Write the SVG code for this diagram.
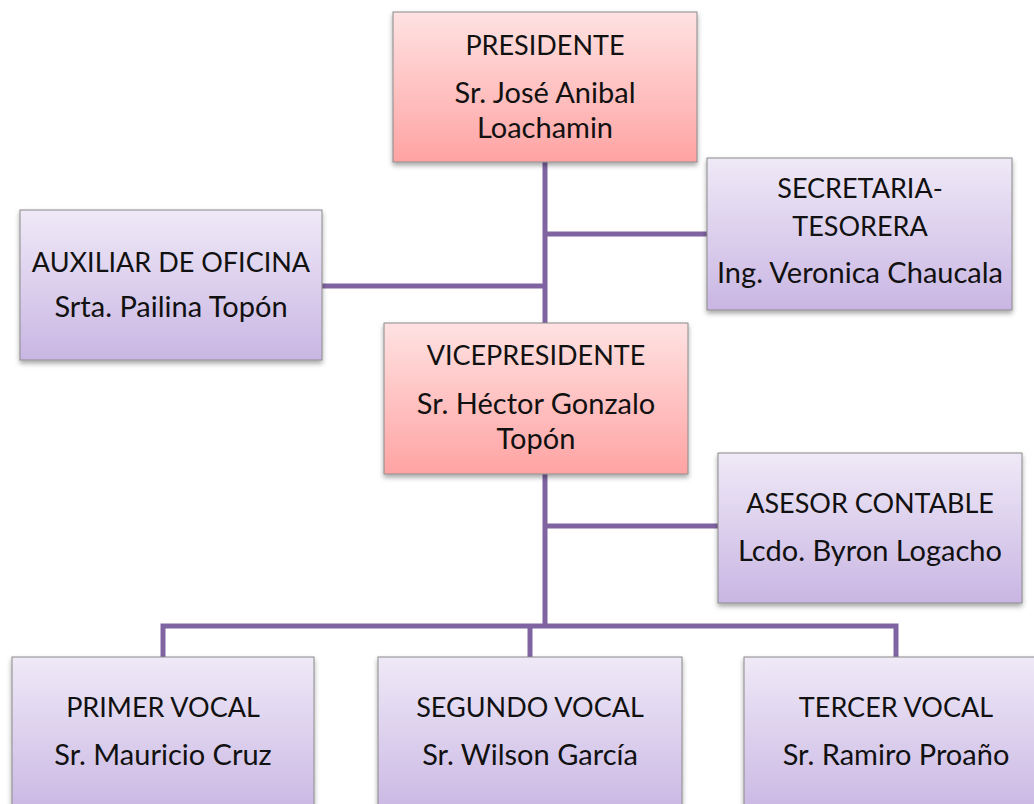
<svg xmlns="http://www.w3.org/2000/svg" width="1034" height="804" viewBox="0 0 1034 804">
<defs>
<linearGradient id="gPink" x1="0" y1="0" x2="0" y2="1">
<stop offset="0" stop-color="#FFE2E2"/>
<stop offset="1" stop-color="#FFA3A3"/>
</linearGradient>
<linearGradient id="gPurple" x1="0" y1="0" x2="0" y2="1">
<stop offset="0" stop-color="#EFE9F7"/>
<stop offset="1" stop-color="#C9B6E3"/>
</linearGradient>
<filter id="sh" x="-10%" y="-10%" width="120%" height="130%">
<feDropShadow dx="0" dy="3" stdDeviation="2.5" flood-color="#000" flood-opacity="0.35"/>
</filter>
<style>
.box{stroke:#8A8A8A;stroke-width:1;filter:url(#sh)}
.pink{fill:url(#gPink)}
.purple{fill:url(#gPurple)}
.t{font-family:Lato,"Open Sans","Liberation Sans",sans-serif;font-size:27px;fill:#111;text-anchor:middle}
.n{font-size:29px}
.c{stroke:#8064A2;stroke-width:5;fill:none;stroke-linejoin:miter}
</style>
</defs>
<rect width="1034" height="804" fill="#fff"/>
<g id="connectors">
<path class="c" d="M545 162 V323"/>
<path class="c" d="M545 234 H707"/>
<path class="c" d="M322 286 H545"/>
<path class="c" d="M545 474 V626"/>
<path class="c" d="M545 526 H718"/>
<path class="c" d="M163 657 V626 H896 V657"/>
<path class="c" d="M530 626 V657"/>
</g>
<g id="presidente">
<rect class="box pink" x="393" y="12" width="304" height="150"/>
<text class="t" x="545" y="55">PRESIDENTE</text>
<text class="t n" x="545" y="103">Sr. José Anibal</text>
<text class="t n" x="545" y="138">Loachamin</text>
</g>
<g id="auxiliar">
<rect class="box purple" x="20" y="210" width="302" height="150"/>
<text class="t" x="171" y="272">AUXILIAR DE OFICINA</text>
<text class="t n" x="171" y="317">Srta. Pailina Topón</text>
</g>
<g id="secretaria">
<rect class="box purple" x="707" y="158" width="305" height="152"/>
<text class="t" x="860" y="198">SECRETARIA-</text>
<text class="t" x="860" y="236">TESORERA</text>
<text class="t n" x="860" y="283">Ing. Veronica Chaucala</text>
</g>
<g id="vicepresidente">
<rect class="box pink" x="384" y="323" width="304" height="151"/>
<text class="t" x="536" y="365">VICEPRESIDENTE</text>
<text class="t n" x="536" y="414">Sr. Héctor Gonzalo</text>
<text class="t n" x="536" y="449">Topón</text>
</g>
<g id="asesor">
<rect class="box purple" x="718" y="453" width="304" height="150"/>
<text class="t" x="870" y="513">ASESOR CONTABLE</text>
<text class="t n" x="870" y="561">Lcdo. Byron Logacho</text>
</g>
<g id="primer">
<rect class="box purple" x="12" y="657" width="302" height="160"/>
<text class="t" x="163" y="717">PRIMER VOCAL</text>
<text class="t n" x="163" y="765">Sr. Mauricio Cruz</text>
</g>
<g id="segundo">
<rect class="box purple" x="378" y="657" width="304" height="160"/>
<text class="t" x="530" y="717">SEGUNDO VOCAL</text>
<text class="t n" x="530" y="765">Sr. Wilson García</text>
</g>
<g id="tercer">
<rect class="box purple" x="744" y="657" width="304" height="160"/>
<text class="t" x="896" y="717">TERCER VOCAL</text>
<text class="t n" x="896" y="765">Sr. Ramiro Proaño</text>
</g>
</svg>
